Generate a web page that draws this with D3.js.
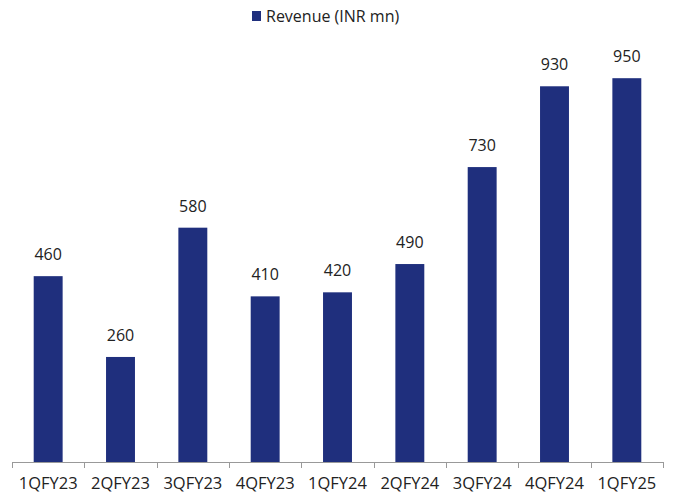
<!DOCTYPE html>
<html><head><meta charset="utf-8">
<script src="https://cdn.jsdelivr.net/npm/d3@7"></script>
<style>body{margin:0;background:#fff}svg{display:block}</style>
</head><body>
<svg id="c" width="674" height="497"></svg>
<script>
const categories = ["1QFY23","2QFY23","3QFY23","4QFY23","1QFY24","2QFY24","3QFY24","4QFY24","1QFY25"];
const revenue = [460,260,580,410,420,490,730,930,950];
const seriesName = "Revenue (INR mn)";

const svg = d3.select("#c");
const font = "'Open Sans', 'Noto Sans', sans-serif";
const color = "#1F2F7D";
const x = d3.scaleBand().domain(categories).range([12, 663]).paddingInner(0.6).paddingOuter(0.3);
const y = d3.scaleLinear().domain([0, 1000]).range([462, 58]);

svg.selectAll("rect.bar").data(revenue).enter().append("rect")
  .attr("class","bar")
  .attr("x",(d,i)=>x(categories[i]))
  .attr("width",x.bandwidth())
  .attr("y",d=>y(d))
  .attr("height",d=>y(0)-y(d))
  .attr("fill",color);

svg.selectAll("text.val").data(revenue).enter().append("text")
  .attr("x",(d,i)=>x(categories[i])+x.bandwidth()/2)
  .attr("y",d=>y(d)-16)
  .attr("text-anchor","middle")
  .attr("font-family",font).attr("font-size",16).attr("fill","#222")
  .text(d=>d);

// axis
const ax = svg.append("g");
ax.append("line").attr("x1",12).attr("x2",663).attr("y1",462.5).attr("y2",462.5).attr("stroke","#999").attr("stroke-width",1);
const bounds = d3.range(categories.length+1).map(i=>12+i*(651/categories.length));
ax.selectAll("line.tick").data(bounds).enter().append("line")
  .attr("x1",d=>Math.round(d)+0.5).attr("x2",d=>Math.round(d)+0.5)
  .attr("y1",462).attr("y2",468).attr("stroke","#999");
ax.selectAll("text.cat").data(categories).enter().append("text")
  .attr("x",d=>x(d)+x.bandwidth()/2)
  .attr("y",489)
  .attr("text-anchor","middle")
  .attr("font-family",font).attr("font-size",16.5).attr("fill","#222")
  .text(d=>d);

// legend
const lg = svg.append("g");
lg.append("rect").attr("x",252).attr("y",11).attr("width",9).attr("height",10).attr("fill",color);
lg.append("text").attr("x",266).attr("y",22).attr("font-family",font).attr("font-size",16).attr("fill","#222").text(seriesName);
</script>
</body></html>
